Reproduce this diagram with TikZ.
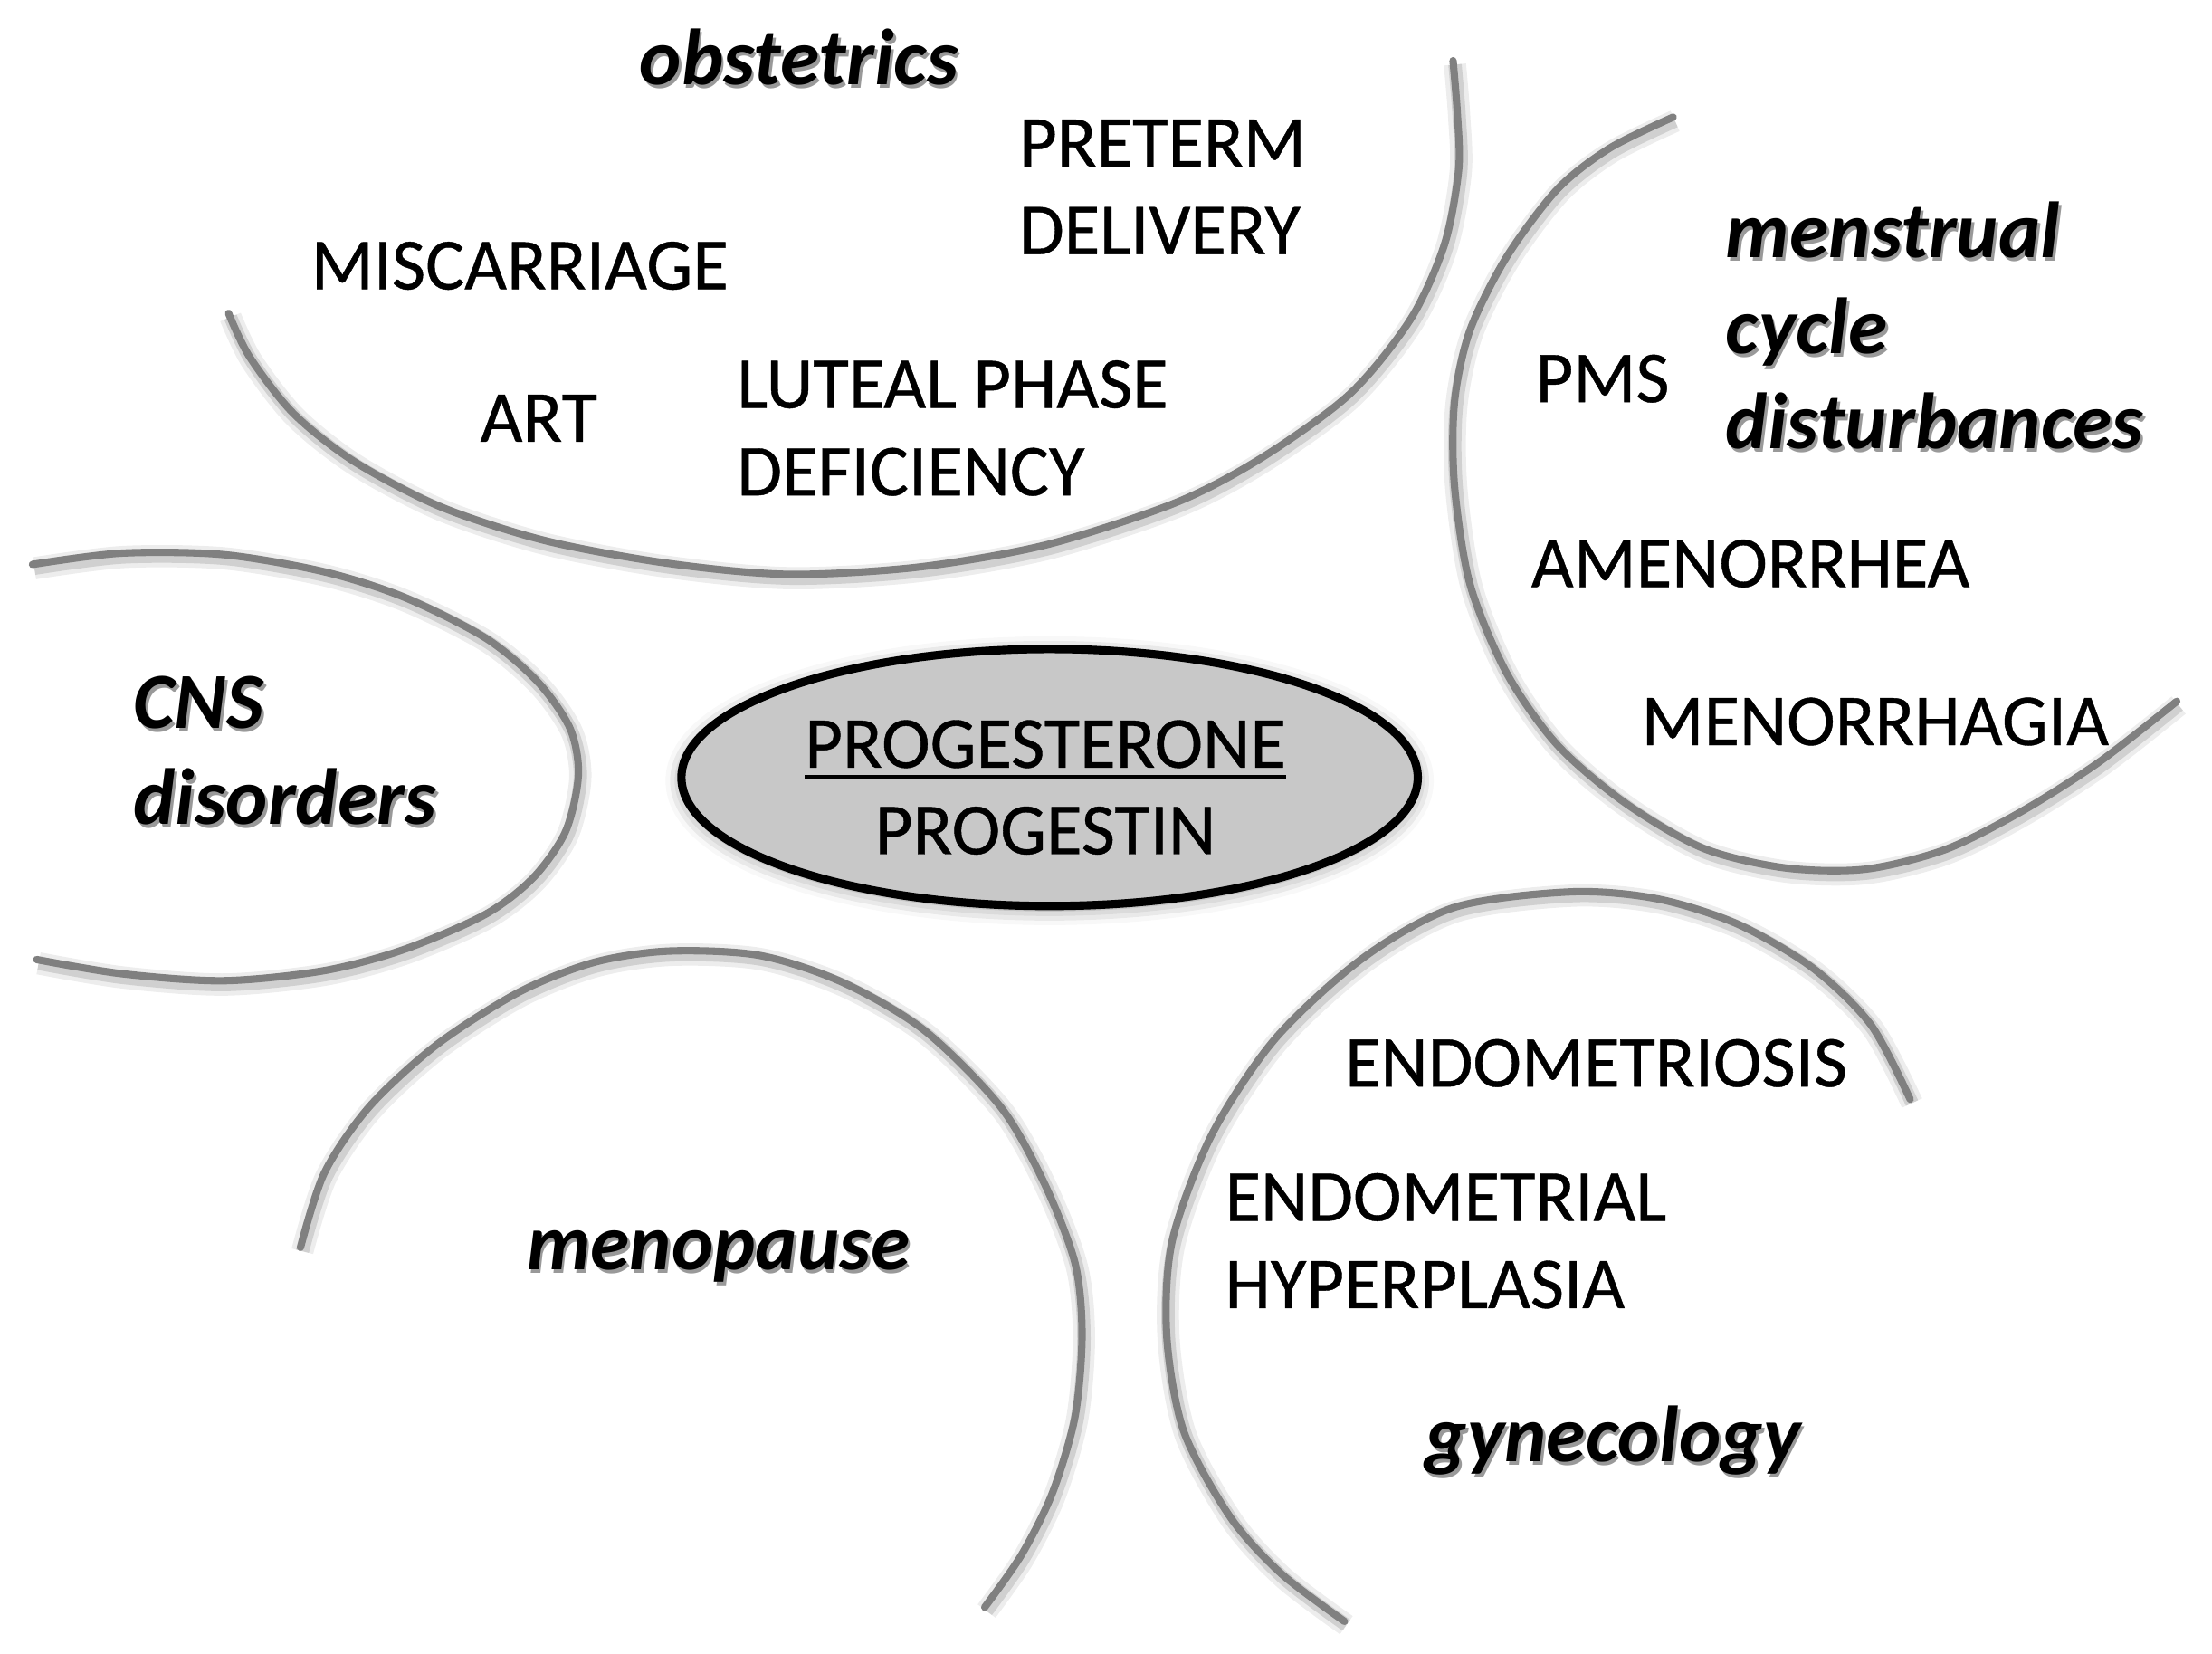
\documentclass[tikz,border=0pt]{standalone}
\usepackage{fontspec}
\setmainfont{Carlito}
\newfontfamily\itemfont{Carlito}[FakeBold=0.5]
\usetikzlibrary{shapes.geometric,shadows.blur,backgrounds}
\definecolor{arcgray}{RGB}{128,128,128}
\definecolor{hubgray}{RGB}{200,200,200}
\newcommand{\thickunderline}[1]{\setbox0=\hbox{#1}\rlap{\rule[-3.8pt]{\wd0}{1.4pt}}\box0}
\tikzset{
  field/.style={draw=arcgray,line width=2.3pt,line cap=round,
    preaction={draw=black,draw opacity=0.07,line width=7pt,
      transform canvas={xshift=0.6pt,yshift=-1.2pt}},
    preaction={draw=black,draw opacity=0.12,line width=4.2pt,
      transform canvas={xshift=0.6pt,yshift=-1.2pt}}},
  item/.style={anchor=base west,inner sep=0pt,align=left,
    font=\itemfont\fontsize{23}{27.5}\selectfont},
  topic/.style={anchor=base west,inner sep=0pt,align=left,
    font=\fontsize{25}{30}\selectfont\bfseries\itshape},
  topicshadow/.style={topic,text=black!40},
}

\begin{document}
\begin{tikzpicture}[x=0.015587cm,y=-0.015587cm,
    hub/.style={ellipse,draw=black,line width=2.6pt,fill=hubgray,
      minimum width=8.14cm,minimum height=2.84cm,inner sep=0pt,
      blur shadow={shadow xshift=0pt,shadow yshift=-1pt,
        shadow blur radius=5pt,shadow opacity=45}},
    hubtext/.style={align=center,inner sep=0pt,
      font=\itemfont\fontsize{23}{27.2}\selectfont},
  ]
  \useasboundingbox (0,0) rectangle (1568,1172);

  % arcs
  \draw[field] plot[smooth] coordinates {(162,222) (177,253) (208,293) (251,327)
    (312,359) (386,383) (472,399) (558,407) (650,402) (742,386) (834,356)
    (895,324) (957,279) (1000,226) (1024,173) (1034,120) (1033,80) (1030,43)};
  \draw[field] plot[smooth] coordinates {(1186,83) (1141,105) (1104,134) (1068,182)
    (1042,234) (1031,285) (1031,344) (1042,414) (1068,477) (1104,528)
    (1152,569) (1207,601) (1265,615) (1322,616) (1379,602) (1433,575)
    (1488,540) (1543,497)};
  \draw[field] plot[smooth] coordinates {(23,400) (86,392) (158,393) (229,405)
    (286,423) (344,452) (381,483) (404,516) (410,549) (401,589) (378,622)
    (344,648) (286,673) (229,688) (158,695) (86,690) (26,680)};
  \draw[field] plot[smooth] coordinates {(213,884) (230,831) (262,784) (310,740)
    (368,703) (421,682) (474,674) (538,677) (597,696) (655,730) (709,784)
    (740,838) (762,895) (767,946) (762,1004) (746,1058) (724,1102) (698,1139)};
  \draw[field] plot[smooth] coordinates {(1354,779) (1326,726) (1285,686)
    (1232,655) (1175,637) (1114,632) (1031,643) (966,679) (904,736) (859,804)
    (831,879) (827,946) (839,1014) (872,1075) (908,1115) (953,1149)};

  \node[hub] (hub) at (744,551) {};
  \node[hubtext] (hubtext) at ([shift={(-3,7)}]hub.center)
    {\thickunderline{PROGESTERONE}\\PROGESTIN};

  % obstetrics
  \node[topic] (obst)   at (453,60)  {obstetrics};
  \node[item]  (preterm) at (722,180) {PRETERM\\DELIVERY};
  \node[item]  (misc)   at (220,205) {MISCARRIAGE};
  \node[item]  (art)    at (340,313) {ART};
  \node[item]  (luteal) at (522,351) {LUTEAL PHASE\\DEFICIENCY};

  % menstrual cycle
  \node[topic] (mens)  at (1223,318) {menstrual\\cycle\\disturbances};
  \node[item]  (pms)   at (1088,285) {PMS};
  \node[item]  (amen)  at (1085,416) {AMENORRHEA};
  \node[item]  (menor) at (1163,528) {MENORRHAGIA};

  \node[topic] (cns)  at (94,584)  {CNS\\disorders};
  \node[topic] (meno) at (373,900) {menopause};

  % gynecology
  \node[item]  (endo)  at (953,770)  {ENDOMETRIOSIS};
  \node[item]  (hyper) at (868,927)  {ENDOMETRIAL\\HYPERPLASIA};
  \node[topic] (gyn)   at (1010,1036) {gynecology};

  % text shadows
  \begin{scope}[on background layer]
    \node[topicshadow] at ([shift={(1.8,2.6)}]obst.base west) {obstetrics};
    \node[topicshadow] at ([shift={(1.8,2.6)}]mens.base west) {menstrual\\cycle\\disturbances};
    \node[topicshadow] at ([shift={(1.8,2.6)}]cns.base west)  {CNS\\disorders};
    \node[topicshadow] at ([shift={(1.8,2.6)}]meno.base west) {menopause};
    \node[topicshadow] at ([shift={(1.8,2.6)}]gyn.base west)  {gynecology};
  \end{scope}
\end{tikzpicture}
\end{document}
